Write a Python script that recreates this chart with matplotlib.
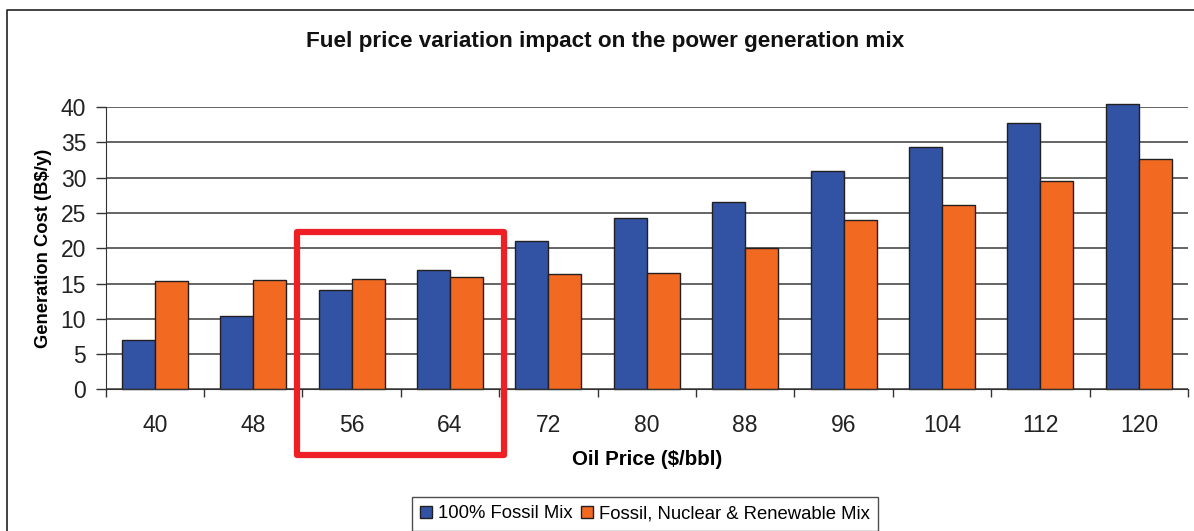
import matplotlib.pyplot as plt
import matplotlib.patches as mpatches
from matplotlib.lines import Line2D
import numpy as np

plt.rcParams['font.family'] = ['Liberation Sans', 'DejaVu Sans']

# Datos
oil_price = ['40', '48', '56', '64', '72', '80', '88', '96', '104', '112', '120']
fossil_mix = [7.0, 10.4, 14.1, 16.9, 21.0, 24.3, 26.5, 31.0, 34.4, 37.7, 40.5]
renewable_mix = [15.3, 15.5, 15.7, 15.9, 16.3, 16.5, 20.0, 24.0, 26.1, 29.5, 32.6]

blue = '#3253a3'
orange = '#f26922'
edge = '#231f20'

fig = plt.figure(figsize=(11.94, 5.31), dpi=100)
ax = fig.add_axes([0.0884, 0.2669, 0.9066, 0.5312])

x = np.arange(len(oil_price))
w = 0.335
b1 = ax.bar(x - w / 2, fossil_mix, w, color=blue, edgecolor=edge, linewidth=1.0,
            label='100% Fossil Mix', zorder=3)
b2 = ax.bar(x + w / 2, renewable_mix, w, color=orange, edgecolor=edge, linewidth=1.0,
            label='Fossil, Nuclear & Renewable Mix', zorder=3)
for r in list(b1) + list(b2):
    r.set_clip_on(False)

# Ejes
ax.set_xlim(-0.5, len(oil_price) - 0.5)
ax.set_ylim(0, 40)
ax.set_yticks(np.arange(0, 41, 5))
ax.yaxis.grid(True, color='#3a3a3a', linewidth=1.1, zorder=0)
ax.set_axisbelow(True)
for s in ['top', 'right']:
    ax.spines[s].set_visible(False)
ax.spines['left'].set_color('#333333')
ax.spines['bottom'].set_color('#333333')
ax.spines['bottom'].set_zorder(4)

ax.set_xticks(x)
ax.set_xticklabels(oil_price)
ax.set_xticks(np.arange(-0.5, len(oil_price)), minor=True)
ax.tick_params(axis='x', which='major', length=0, pad=18, labelsize=16.5, labelcolor='#222222')
ax.tick_params(axis='x', which='minor', length=6, width=1, color='#333333')
ax.tick_params(axis='y', length=7, width=1, color='#333333', pad=7, labelsize=16.5,
               labelcolor='#222222')

ax.set_xlabel('Oil Price ($/bbl)', fontsize=14.8, fontweight='bold', labelpad=9)
ax.set_ylabel('Generation Cost (B$/y)', fontsize=13.2, fontweight='bold', labelpad=6)

fig.text(605 / 1194, 1 - 42 / 531, 'Fuel price variation impact on the power generation mix',
         ha='center', va='center', fontsize=16.2, fontweight='bold', color='#111111')

# Recuadro rojo resaltando 56-64
rect = mpatches.Rectangle((1.446, -9.3), 2.104, 31.56, fill=False, edgecolor='#ee2026',
                          linewidth=4.5, joinstyle='round', clip_on=False, zorder=5)
ax.add_patch(rect)

# Marco exterior
fig.add_artist(Line2D([7 / 1194, 7 / 1194, 1.0], [0.0, 1 - 10 / 531, 1 - 10 / 531],
                      transform=fig.transFigure, color='#222222', linewidth=1.2))

leg = fig.legend(handles=[b1, b2], loc='upper center', bbox_to_anchor=(645 / 1194, 1 - 497 / 531),
                 ncol=2, fontsize=13.3, frameon=True, fancybox=False, edgecolor='#222222',
                 handlelength=0.65, handleheight=0.65, handletextpad=0.3, columnspacing=0.5,
                 borderpad=0.45, borderaxespad=0)
leg.get_frame().set_linewidth(1.0)

fig.savefig('out.png', dpi=100)
